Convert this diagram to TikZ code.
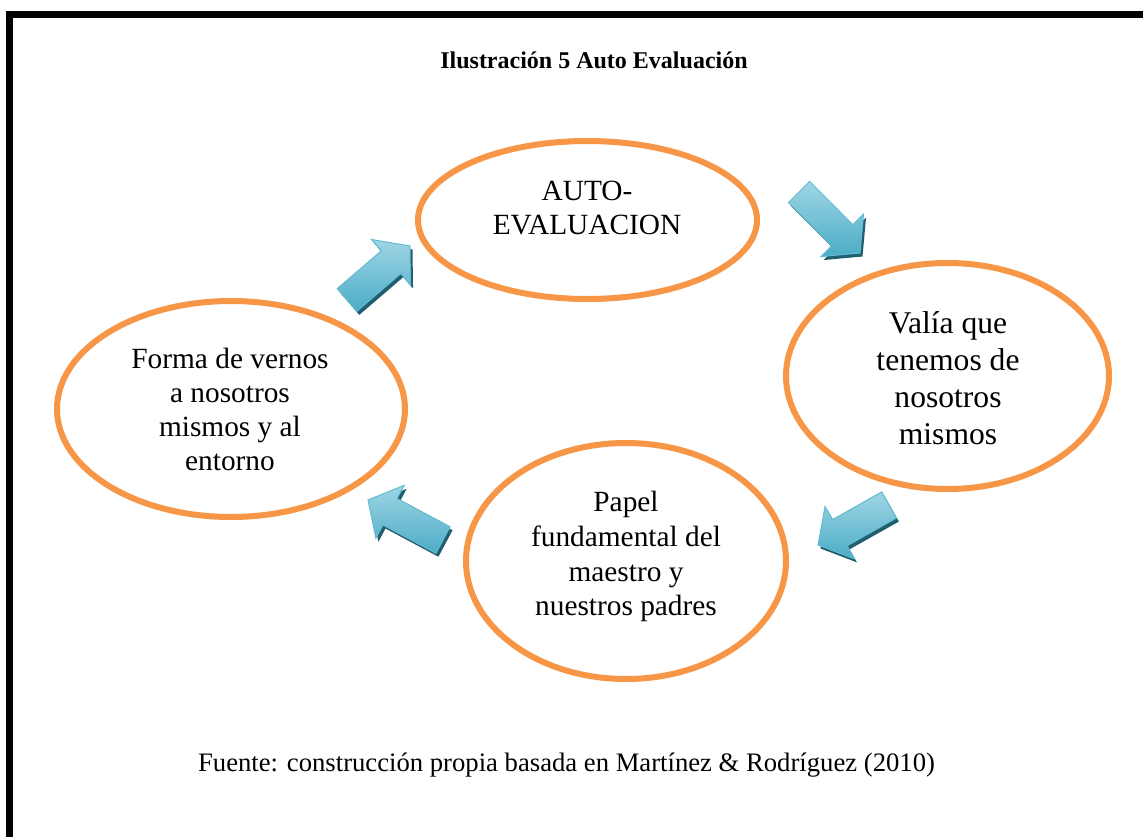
\documentclass[tikz,border=0pt]{standalone}
\usepackage{fontspec}
\setmainfont{Liberation Serif}
\usetikzlibrary{shapes.geometric,calc}
\definecolor{ringorange}{HTML}{F79646}
\definecolor{arrowmid}{HTML}{4BACC6}
\definecolor{arrowlight}{HTML}{9FD6E5}
\definecolor{arrowdark}{HTML}{215E70}
\definecolor{arrowline}{HTML}{62BAD2}
\tikzset{
  ring/.style={ellipse, draw=ringorange, line width=4.5pt, inner sep=0pt, outer sep=0pt},
  ringtext/.style={align=center, inner sep=0pt, text=black},
  arrowshadow/.style={fill=arrowdark},
  arrowbody/.style={top color=arrowlight, bottom color=arrowmid, draw=arrowline, line width=0.75pt, line join=miter},
}
\newcommand{\BlkArrow}[3]{%
  \coordinate (#1-h)  at ($(#3)!18.75pt!(#2)$);
  \coordinate (#1-t1) at ($(#2)!11.25pt!90:(#3)$);
  \coordinate (#1-t2) at ($(#2)!11.25pt!-90:(#3)$);
  \coordinate (#1-h1) at ($(#1-h)!11.25pt!90:(#3)$);
  \coordinate (#1-h2) at ($(#1-h)!11.25pt!-90:(#3)$);
  \coordinate (#1-w1) at ($(#1-h)!22.5pt!90:(#3)$);
  \coordinate (#1-w2) at ($(#1-h)!22.5pt!-90:(#3)$);
  \fill[arrowshadow] ($(#1-t1)+(2.5,3.5)$) -- ($(#1-h1)+(2.5,3.5)$) -- ($(#1-w1)+(2.5,3.5)$) -- ($(#3)+(2.5,3.5)$)
     -- ($(#1-w2)+(2.5,3.5)$) -- ($(#1-h2)+(2.5,3.5)$) -- ($(#1-t2)+(2.5,3.5)$) -- cycle;
  \shadedraw[arrowbody] (#1-t1) -- (#1-h1) -- (#1-w1) -- (#3) -- (#1-w2) -- (#1-h2) -- (#1-t2) -- cycle;
}
\begin{document}
\begin{tikzpicture}[x=0.75pt, y=-0.75pt]
  \useasboundingbox (0,0) rectangle (1143,836);
  \fill[white] (0,0) rectangle (1143,836);
  % frame (open to the right and bottom)
  \draw[line width=4.9pt] (9.25,14.5) rectangle (1250,950);

  \node[anchor=base, font=\bfseries\fontsize{18}{21}\selectfont] (title) at (594,68) {Ilustración 5 Auto Evaluación};

  % ellipses
  \node[ring, minimum width=254.25pt, minimum height=118.5pt] (top)    at (587.5,220) {};
  \node[ring, minimum width=242.25pt, minimum height=169.5pt]  (right)  at (947.5,376) {};
  \node[ring, minimum width=240pt,    minimum height=177pt]    (bottom) at (626,561) {};
  \node[ring, minimum width=261pt,    minimum height=162pt]    (left)   at (231,409) {};

  % texts
  \node[ringtext, font=\fontsize{22}{25.5}\selectfont] (toptext) at (587,211)
    {\strut AUTO-\\EVALUACION\strut};
  \node[ringtext, font=\fontsize{23.7}{27.75}\selectfont] (righttext) at (948,381.1)
    {\strut Valía que\\tenemos de\\nosotros\\mismos\strut};
  \node[ringtext, font=\fontsize{22}{26}\selectfont] (bottomtext) at (626,556.8)
    {\strut Papel\\fundamental del\\maestro y\\nuestros padres\strut};
  \node[ringtext, font=\fontsize{22}{25.3}\selectfont] (lefttext) at (230,412.8)
    {\strut Forma de vernos\\a nosotros\\mismos y al\\entorno\strut};

  % block arrows
  \coordinate (a1s) at (799,192); \coordinate (a1e) at (860,253);
  \coordinate (a2s) at (889,505); \coordinate (a2e) at (818,545);
  \coordinate (a3s) at (443,540); \coordinate (a3e) at (368,500);
  \coordinate (a4s) at (347,300); \coordinate (a4e) at (410,246);
  \BlkArrow{ar1}{a1s}{a1e}
  \BlkArrow{ar2}{a2s}{a2e}
  \BlkArrow{ar3}{a3s}{a3e}
  \BlkArrow{ar4}{a4s}{a4e}

  \node[anchor=base, font=\fontsize{20}{24}\selectfont] (source) at (566.5,771)
    {Fuente: construcción propia basada en Martínez \& Rodríguez (2010)};
\end{tikzpicture}
\end{document}
